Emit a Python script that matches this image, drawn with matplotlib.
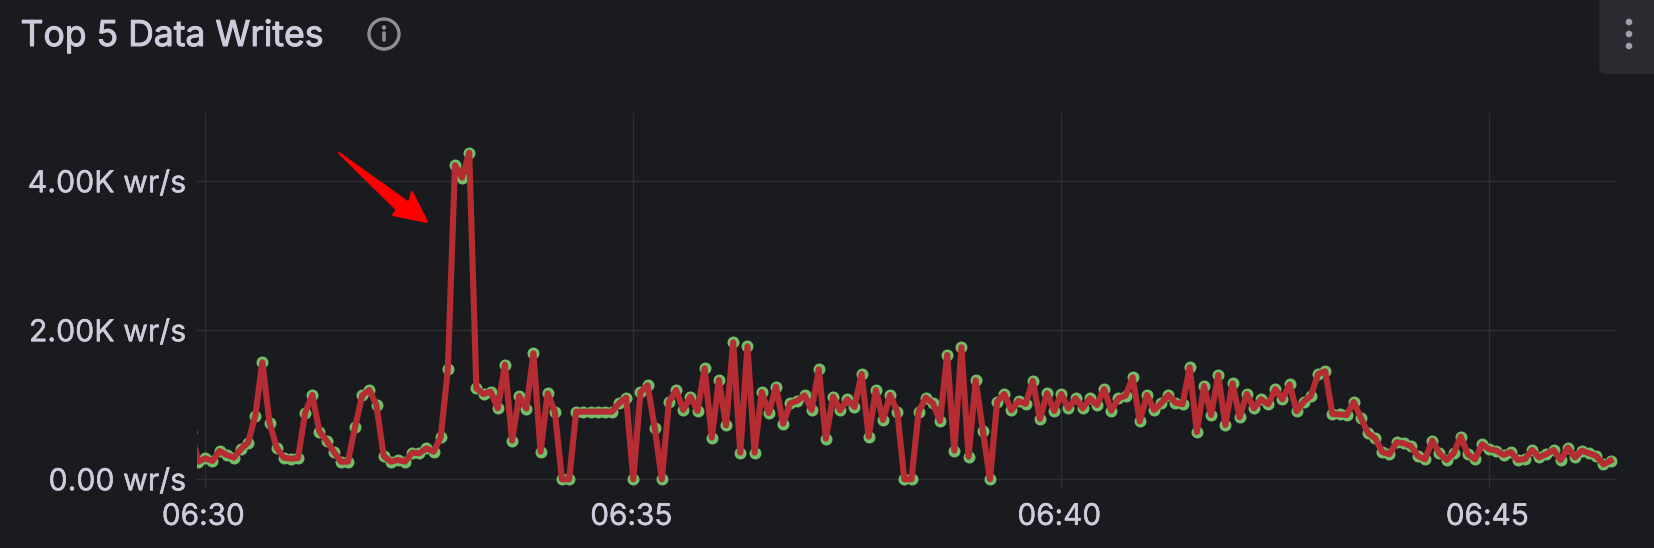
import matplotlib
matplotlib.use("Agg")
import matplotlib.pyplot as plt
import matplotlib.dates as mdates
import matplotlib.patheffects as pe
import matplotlib.transforms as mtrans
import pandas as pd
from matplotlib.patches import Circle, FancyBboxPatch, Polygon

# one sample every 5 s, first one is cut off by the left edge of the plot
start_time = "2024-01-01 06:29:50"
writes = [
    640, 237, 282, 246, 380, 327, 291, 407, 492, 855, 1570, 760, 425, 291, 277, 286, 895, 1132,
    640, 519, 371, 237, 237, 707, 1127, 1199, 993, 313, 237, 260, 237, 358, 349, 416, 371, 564,
    1476, 4215, 4050, 4385, 1221, 1145, 1177, 953, 1539, 519, 1118, 948, 1691, 371, 1154, 908,
    0, 0, 908, 908, 908, 908, 908, 908, 1020, 1096,
    0, 1168, 1262, 693, 0, 1042, 1199, 931, 1110, 917, 1490, 559, 1333, 725, 1839, 358, 1785,
    358, 1172, 890, 1244, 747, 1020, 1056, 1127, 931, 1476, 546, 1110, 926, 1074, 971, 1414,
    573, 1199, 796, 1132, 908, 0, 0, 908, 1096, 1020, 783, 1669, 385, 1772, 304, 1329, 653, 0,
    1042, 1145, 926, 1051, 1011, 1320, 810, 1154, 917,
    1145, 953, 1087, 953, 1087, 998, 1212, 922, 1087, 1123, 1369, 778, 1132, 931, 1020, 1132,
    1029, 1007, 1503, 635, 1253, 863, 1400, 729, 1288, 832, 1145, 953, 1074, 1007, 1212, 1074,
    1275, 913, 1042, 1123, 1414, 1450, 877, 872, 863, 1038, 823, 622, 550, 367, 336, 497, 483,
    447, 313, 268, 519, 349, 259, 349, 573, 336, 268, 470, 403, 385, 327, 367, 259, 273, 394,
    295, 340, 394, 259, 425, 295, 385, 349, 313, 201, 251,
]
times = pd.date_range(start_time, periods=len(writes), freq="5s")

y_ticks = [0, 2000, 4000]
y_tick_labels = ["0.00 wr/s", "2.00K wr/s", "4.00K wr/s"]
x_ticks = pd.to_datetime(["2024-01-01 06:30", "2024-01-01 06:35", "2024-01-01 06:40", "2024-01-01 06:45"])

W, H = 1654, 548
BG = "#1a1b1f"
TEXT = "#ccccdc"
GRID = "#2e2f33"
plt.rcParams["font.family"] = ["Inter", "DejaVu Sans"]

fig = plt.figure(figsize=(W / 100, H / 100), dpi=100, facecolor=BG)

# plot area, in pixels of the reference
left, right, top, bottom = 197, 1617, 113, 489
ax = fig.add_axes([left / W, 1 - bottom / H, (right - left) / W, (bottom - top) / H], facecolor=BG)

ax.plot(times, writes, linestyle="none", marker="o", ms=7.6, mfc="#73bf69", mec="#73bf69", zorder=3)
ax.plot(times, writes, color="#b52d33", lw=4.4, solid_joinstyle="round", zorder=4)

ax.xaxis.set_major_formatter(mdates.DateFormatter("%H:%M"))
ax.set_xticks(x_ticks)
ax.set_yticks(y_ticks)
ax.set_yticklabels(y_tick_labels)

# 06:30 sits at x=205.3 and 06:45 at x=1489.3
px_per_sec = (1489.3 - 205.3) / 900
ax.set_xlim(x_ticks[0] - pd.Timedelta(seconds=(205.3 - left) / px_per_sec),
            x_ticks[0] + pd.Timedelta(seconds=(right - 205.3) / px_per_sec))
# 0 at y=479.3, 4000 at y=181.3
val_per_px = 4000 / (479.3 - 181.3)
ax.set_ylim(-(bottom - 479.3) * val_per_px, (479.3 - top) * val_per_px)

ax.grid(color=GRID, lw=1.0)
ax.set_axisbelow(True)
for s in ax.spines.values():
    s.set_visible(False)
ax.tick_params(axis="y", length=0, labelcolor=TEXT, labelsize=21.8, pad=8)
ax.tick_params(axis="x", length=0, labelcolor=TEXT, labelsize=21.4, pad=10)
# the reference text is a bit heavier than the regular cut
for lab in ax.get_xticklabels() + ax.get_yticklabels():
    lab.set_path_effects([pe.withStroke(linewidth=0.3, foreground=TEXT)])
# time labels sit a little left of their grid lines
for lab in ax.get_xticklabels():
    lab.set_transform(lab.get_transform() + mtrans.Affine2D().translate(-2, 0))

# title bar, arrow and icons are drawn on a full size overlay in pixel coordinates
over = fig.add_axes([0, 0, 1, 1], facecolor="none")
over.set_xlim(0, W)
over.set_ylim(H, 0)
over.axis("off")

title = over.text(20.5, 36, "Top 5 Data Writes", color=TEXT, fontsize=25.6, va="center", ha="left")
title.set_path_effects([pe.withStroke(linewidth=0.7, foreground=TEXT)])

# info icon
over.add_patch(Circle((384, 34), 15, fc="none", ec="#8e8e99", lw=2.4))
over.add_patch(Circle((384, 27.5), 2.2, fc="#8e8e99", ec="none"))
over.plot([384, 384], [33, 40], color="#8e8e99", lw=2.6, solid_capstyle="round")

# panel menu
over.add_patch(FancyBboxPatch((1600, -20), 80, 93, boxstyle="round,pad=0,rounding_size=5",
                              fc="#2a2b30", ec="#2a2b30", lw=1))
for dot_y in [22, 34, 46]:
    over.add_patch(Circle((1629, dot_y), 3.3, fc="#9fa0ac", ec="none"))

# red arrow
over.add_patch(Polygon([(339, 153), (409, 203), (412, 192), (427, 222), (393, 215), (397, 210)],
                       closed=True, fc="#ff0000", ec="#ff0000", lw=1.5, joinstyle="round"))

fig.savefig("out.png", dpi=100, facecolor=BG)
